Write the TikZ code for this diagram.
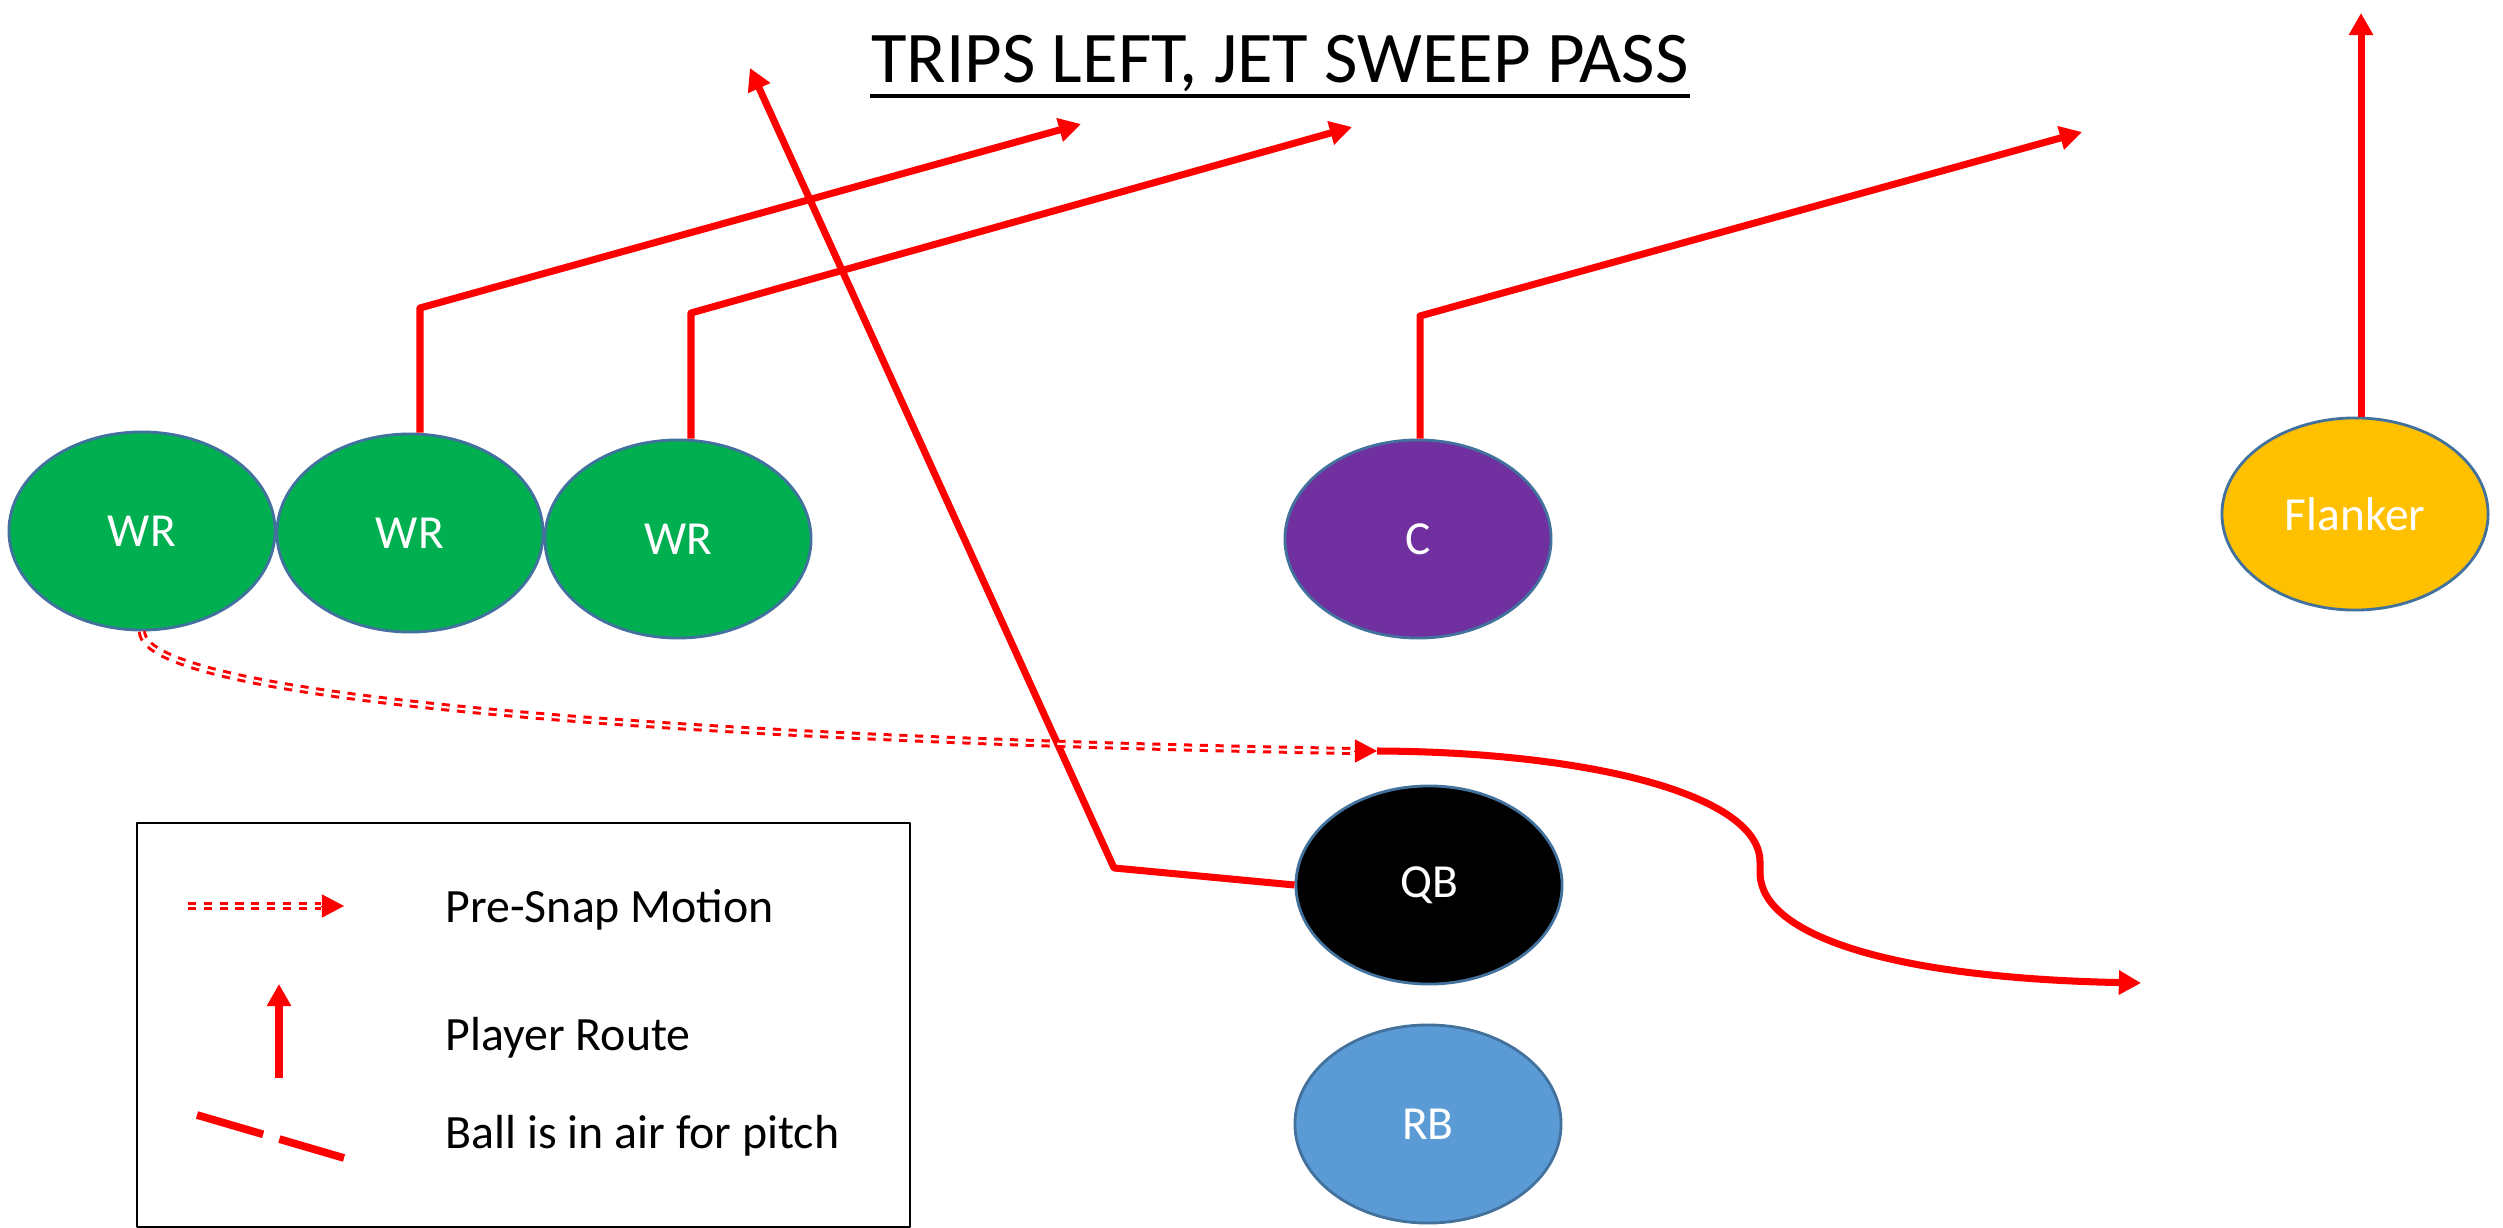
\documentclass[tikz,border=0pt]{standalone}
\usepackage{fontspec}
\setmainfont{Carlito}
\usepackage{tikz}
\usetikzlibrary{arrows.meta,calc,positioning,shapes.geometric}
\definecolor{playgreen}{HTML}{00B050}
\definecolor{playpurple}{HTML}{7030A0}
\definecolor{playgold}{HTML}{FFC000}
\definecolor{playblue}{HTML}{5B9BD5}
\definecolor{playedge}{HTML}{41719C}
\tikzset{
  every picture/.append style={line join=round},
  play player/.style={ellipse,draw=playedge,line width=0.8pt,text=white,inner sep=0pt,
    minimum width=2.66cm,minimum height=1.98cm,font=\fontsize{13.5}{16}\selectfont},
  play route/.style={red,line width=2pt,-{Triangle[length=6.3pt,width=6.6pt]}},
  play motion/.style={red,line width=0.85pt,double=white,double distance=0.6pt,
    dash pattern=on 2.3pt off 2.2pt},
  play tip/.style={red,line width=0.2pt,-{Triangle[length=6.3pt,width=6.6pt]}},
  play pitch/.style={red,line width=2.2pt,dash pattern=on 19.6pt off 4.8pt},
  play note/.style={font=\fontsize{13.6}{16}\selectfont,anchor=base west,inner sep=0pt},
  play title/.style={font=\fontsize{20.7}{25}\selectfont,anchor=base,inner sep=0pt}
}

\begin{document}
\begin{tikzpicture}[x=0.01cm,y=-0.01cm]
\useasboundingbox (0,0) rectangle (2503,1228);
\node[play title] (title) at (1280,83) {TRIPS LEFT, JET SWEEP PASS};
\draw[line width=1pt] ($(title.base west)+(0,13)$) -- ($(title.base east)+(0,13)$);

\node[play player,fill=playgreen] (wr1) at (142,531) {WR};
\node[play player,fill=playgreen] (wr2) at (410,533) {WR};
\node[play player,fill=playgreen] (wr3) at (678,539) {WR};
\node[play player,fill=playpurple] (c) at (1418,539) {C};
\node[play player,fill=playgold,minimum height=1.92cm] (flanker) at (2355,514) {Flanker};
\node[play player,fill=black] (qb) at (1429,885) {QB};
\node[play player,fill=playblue] (rb) at (1428,1124) {RB};

\coordinate (wr2cut) at (420,308);
\coordinate (wr2end) at (1081,124);
\coordinate (wr3cut) at (691,313);
\coordinate (wr3end) at (1352,127);
\coordinate (ccut) at (1420,316);
\coordinate (cend) at (2082,132);
\coordinate (flankerend) at (2361,13);
\coordinate (qbdrop) at (1114,868);
\coordinate (qbend) at (750,68);
\coordinate (jetbase) at (1354,751);
\coordinate (jet) at (1377,751);
\coordinate (jetturn) at (1760,862);
\coordinate (jetend) at (2141,983);

\draw[play route] (wr2.north -| wr2cut) -- (wr2cut) -- (wr2end);
\draw[play route] (wr3.north -| wr3cut) -- (wr3cut) -- (wr3end);
\draw[play route] (c.north -| ccut) -- (ccut) -- (cend);
\draw[play route] (flanker.north -| flankerend) -- (flankerend);
\draw[play route] (qb.west) -- (qbdrop) -- (qbend);

% jet motion, then the sweep
\draw[play motion] (wr1.south) .. controls (142,700) and (700,740) .. (jetbase);
\draw[play tip] (jetbase) -- (jet);
\draw[play route] (jet) .. controls (1590,752) and (1760,795) .. (jetturn)
  -- ++(0,12) .. controls (1762,935) and (1890,978) .. (jetend);

% key
\draw[line width=0.8pt] (137,823) rectangle (910,1227);
\node[play note] (keymotion) at (445,922) {Pre-Snap Motion};
\node[play note] (keyroute) at (445,1050) {Player Route};
\node[play note] (keypitch) at (445,1148) {Ball is in air for pitch};
\draw[play motion] (188,906) -- (321,906);
\draw[play tip] (321,906) -- (344,906);
\draw[play route] (279,1078) -- (279,984);
\draw[play pitch] (197,1115) -- (344,1158);
\end{tikzpicture}
\end{document}
